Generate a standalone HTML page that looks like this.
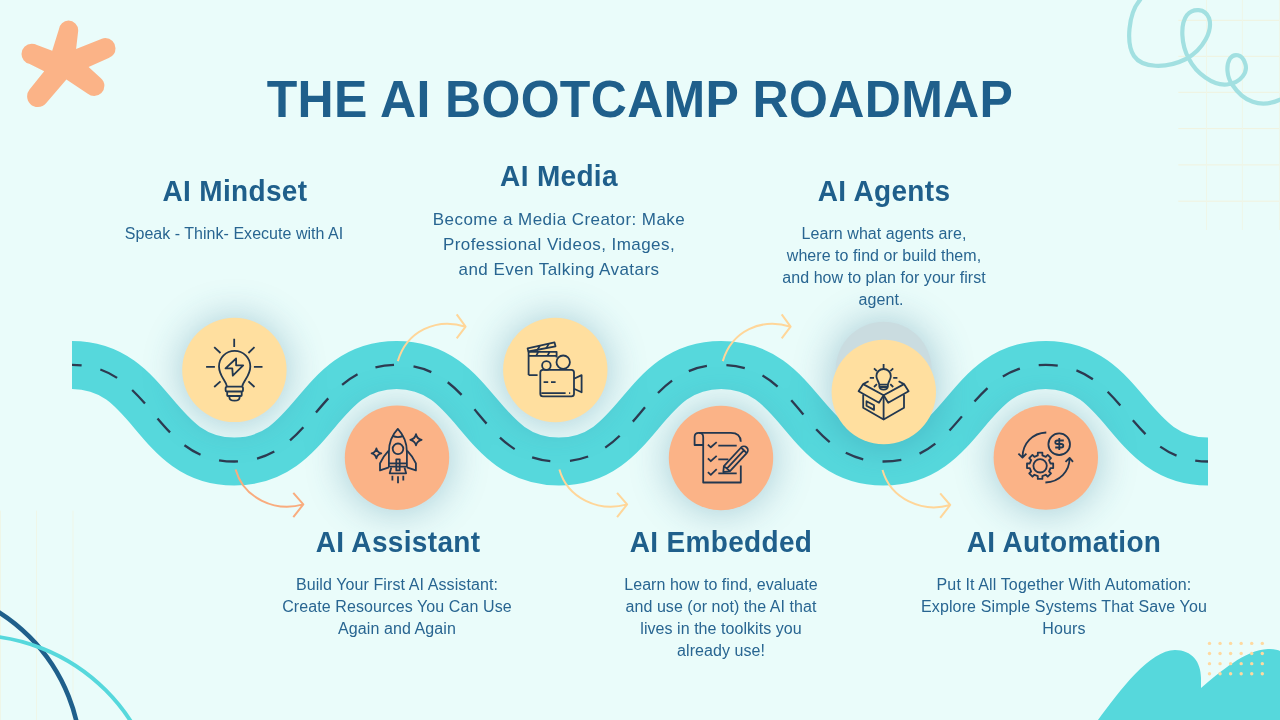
<!DOCTYPE html>
<html><head><meta charset="utf-8"><style>
html,body{margin:0;padding:0;}
body{width:1280px;height:720px;overflow:hidden;background:#EAFCFA;position:relative;font-family:"Liberation Sans",sans-serif;}
svg{position:absolute;left:0;top:0;}
.t{position:absolute;text-align:center;white-space:nowrap;will-change:transform;}
</style></head><body>
<svg width="1280" height="720" viewBox="0 0 1280 720">
<defs>
<filter id="sh" x="-60%" y="-60%" width="220%" height="220%"><feGaussianBlur stdDeviation="19"/></filter>
</defs>
<g stroke="#F2F3E0" stroke-width="1" fill="none"><path d="M1178.3,20.3H1280" stroke="#F1F2DE"/><path d="M1178.3,56.3H1280" stroke="#F1F2DE"/><path d="M1178.3,92.3H1280" stroke="#F1F2DE"/><path d="M1178.3,128.6H1280" stroke="#F1F2DE"/><path d="M1178.3,164.9H1280" stroke="#F1F2DE"/><path d="M1178.3,201.2H1280" stroke="#F1F2DE"/><path d="M1206.5,0V230" stroke="#EFF6E8"/><path d="M1242.4,0V230" stroke="#EFF6E8"/><path d="M1279.5,0V230" stroke="#EFF6E8"/><path d="M0.5,510.7V720" stroke="#EFF6E8"/><path d="M36.5,510.7V720" stroke="#EFF6E8"/><path d="M73,510.7V720" stroke="#EFF6E8"/></g>
<path d="M1140,0 C1128,14 1126,44 1134,56 C1142,68 1166,69 1186,59 C1204,49 1213,30 1209,18 C1205,8 1193,8 1187,15 C1180,24 1181,45 1189,59 C1196,73 1213,86 1227,84.5 C1241,83 1248.5,72 1245,63 C1242,54 1234,53 1230,58.5 C1226,65 1226.5,77 1232.5,85 C1243,101 1260,109 1280,99.6" fill="none" stroke="#A2E0E1" stroke-width="4.2" stroke-linecap="round"/>
<clipPath id="astc"><path d="M76.1,49 L88.6,67.1 L66.4,79.6 L44.2,71.25 L52.2,50.8Z"/><path d="M52.2,50.8 L58.84,29.40 L78.16,31.20 L76.1,49 L65.5,62.5Z"/><circle cx="68.5" cy="30.3" r="9.7"/><path d="M76.1,49 L101.87,38.69 L108.73,57.91 L88.6,67.1 L65.5,62.5Z"/><circle cx="105.3" cy="48.3" r="10.2"/><path d="M88.6,67.1 L100.63,77.88 L87.77,93.72 L66.4,79.6 L65.5,62.5Z"/><circle cx="94.2" cy="85.8" r="10.2"/><path d="M66.4,79.6 L46.26,103.09 L29.54,89.41 L44.2,71.25 L65.5,62.5Z"/><circle cx="37.9" cy="96.25" r="10.8"/><path d="M44.2,71.25 L29.18,63.79 L34.22,44.01 L52.2,50.8 L65.5,62.5Z"/><circle cx="31.7" cy="53.9" r="10.2"/></clipPath><rect x="0" y="0" width="140" height="130" fill="#FBB387" clip-path="url(#astc)"/>
<circle cx="-95.29" cy="761.25" r="176.28" fill="none" stroke="#1F5F8B" stroke-width="4.6"/><circle cx="-27.22" cy="823.1" r="187.94" fill="none" stroke="#56D8DC" stroke-width="3.9"/>
<path d="M1098,720 C1120,690 1150,650 1175,650 C1192,650 1201,662 1201,678 V688 C1220,672 1245,650 1268,649 C1274,649 1278,650 1280,651 V720Z" fill="#56D8DC"/>
<g fill="#FFD9A0"><circle cx="1209.50" cy="643.40" r="1.7"/><circle cx="1209.50" cy="653.53" r="1.7"/><circle cx="1209.50" cy="663.66" r="1.7"/><circle cx="1209.50" cy="673.79" r="1.7"/><circle cx="1220.06" cy="643.40" r="1.7"/><circle cx="1220.06" cy="653.53" r="1.7"/><circle cx="1220.06" cy="663.66" r="1.7"/><circle cx="1220.06" cy="673.79" r="1.7"/><circle cx="1230.62" cy="643.40" r="1.7"/><circle cx="1230.62" cy="653.53" r="1.7"/><circle cx="1230.62" cy="663.66" r="1.7"/><circle cx="1230.62" cy="673.79" r="1.7"/><circle cx="1241.18" cy="643.40" r="1.7"/><circle cx="1241.18" cy="653.53" r="1.7"/><circle cx="1241.18" cy="663.66" r="1.7"/><circle cx="1241.18" cy="673.79" r="1.7"/><circle cx="1251.74" cy="643.40" r="1.7"/><circle cx="1251.74" cy="653.53" r="1.7"/><circle cx="1251.74" cy="663.66" r="1.7"/><circle cx="1251.74" cy="673.79" r="1.7"/><circle cx="1262.30" cy="643.40" r="1.7"/><circle cx="1262.30" cy="653.53" r="1.7"/><circle cx="1262.30" cy="663.66" r="1.7"/><circle cx="1262.30" cy="673.79" r="1.7"/></g>

<path d="M72.00,364.90 C153.14,364.90 153.14,461.50 234.29,461.50 C315.43,461.50 315.43,364.90 396.57,364.90 C477.71,364.90 477.71,461.50 558.86,461.50 C640.00,461.50 640.00,364.90 721.14,364.90 C802.29,364.90 802.29,461.50 883.43,461.50 C964.57,461.50 964.57,364.90 1045.71,364.90 C1126.86,364.90 1126.86,461.50 1208.00,461.50" fill="none" stroke="#56D8DC" stroke-width="48"/>
<path d="M72.00,364.90 C153.14,364.90 153.14,461.50 234.29,461.50 C315.43,461.50 315.43,364.90 396.57,364.90 C477.71,364.90 477.71,461.50 558.86,461.50 C640.00,461.50 640.00,364.90 721.14,364.90 C802.29,364.90 802.29,461.50 883.43,461.50 C964.57,461.50 964.57,364.90 1045.71,364.90 C1126.86,364.90 1126.86,461.50 1208.00,461.50" fill="none" stroke="#2D3A50" stroke-width="2.3" stroke-dasharray="18.75 19.35" stroke-dashoffset="9.3"/>
<g fill="#2A6E90" opacity="0.33" filter="url(#sh)">
<circle cx="234.4" cy="371" r="54"/><circle cx="397" cy="459" r="54"/><circle cx="555.3" cy="371" r="54"/>
<circle cx="721" cy="459" r="54"/><circle cx="883.7" cy="371" r="52"/><circle cx="883.8" cy="393" r="54"/><circle cx="1045.8" cy="459" r="54"/>
</g>
<path d="M397.8,361.1 C406.82,331.16 436.22,317.44000000000005 465.6,326.70000000000005 M456.7,314.40000000000003 L465.6,326.70000000000005 L456.7,338.3" fill="none" stroke="#FFD699" stroke-width="2" stroke-linejoin="round"/><path d="M722.8,361.1 C731.8199999999999,331.16 761.2199999999999,317.44000000000005 790.5999999999999,326.70000000000005 M781.6999999999999,314.40000000000003 L790.5999999999999,326.70000000000005 L781.6999999999999,338.3" fill="none" stroke="#FFD699" stroke-width="2" stroke-linejoin="round"/><path d="M235.6,469.4 C243.67,498.31 275.39,512.5699999999999 303.3,504.4 M293.3,492.79999999999995 L303.3,504.4 L293.3,517.1999999999999" fill="none" stroke="#F9AC7E" stroke-width="2" stroke-linejoin="round"/><path d="M559.4,469.4 C567.47,498.31 599.1899999999999,512.5699999999999 627.1,504.4 M617.1,492.79999999999995 L627.1,504.4 L617.1,517.1999999999999" fill="none" stroke="#FFD699" stroke-width="2" stroke-linejoin="round"/><path d="M882.5,470.0 C890.57,498.91 922.29,513.17 950.2,505.0 M940.2,493.4 L950.2,505.0 L940.2,517.8" fill="none" stroke="#FFD699" stroke-width="2" stroke-linejoin="round"/>
<circle cx="883.7" cy="369.8" r="48" fill="#CADCE0"/>
<circle cx="234.4" cy="369.9" r="52.2" fill="#FFDF9F"/><circle cx="397" cy="457.7" r="52.2" fill="#FBB387"/><circle cx="555.3" cy="370" r="52.2" fill="#FFDF9F"/><circle cx="721" cy="458" r="52.2" fill="#FBB387"/><circle cx="883.8" cy="392" r="52.2" fill="#FFDF9F"/><circle cx="1045.8" cy="457.5" r="52.2" fill="#FBB387"/>
<g fill="none" stroke="#22374F" stroke-width="1.8" stroke-linecap="butt" stroke-linejoin="round">
<path d="M234.2,338.8V346.9 M214.2,347.1L220.5,353 M254.5,347.1L248.4,353 M206.1,366.9H214.9 M253.9,366.9H262.5 M214.2,387L220.5,381.3 M254.5,387L248.4,381.3"/>
<path d="M226.9,386.3 C226.2,381 219,376 219,366.5 C219,357.5 226,350.9 234.6,350.9 C243.2,350.9 250.3,357.5 250.3,366.5 C250.3,376 243,381 242.3,386.3"/>
<rect x="225.6" y="386.6" width="17.4" height="4.9" rx="1.6"/>
<path d="M227.2,391.5V395.2Q227.2,396 228,396H240.9Q241.7,396 241.7,395.2V391.5"/>
<path d="M229.4,396V397.5Q229.4,400.7 234.6,400.7Q239.6,400.7 239.6,397.5V396"/>
<path d="M236.1,358.5L225.5,368.3H232.3L232.8,375.7L243.2,365.3H236.1Z"/>
</g><g fill="none" stroke="#22374F" stroke-width="1.8" stroke-linejoin="round">
<path d="M388.9,466.7V452 C388.9,442 393,434 397.8,428.9 C402.6,434 406.9,442 406.9,452V466.7Z"/>
<path d="M392.6,435.9Q398,438.4 403.3,435.9"/>
<circle cx="398" cy="448.8" r="5.3"/>
<path d="M388.7,450.6Q383.2,456.2 380,463.3V470.4L388.9,467.4 M407.1,450.6Q412.6,456.2 415.9,463.3V470.4L406.9,467.4"/>
<path d="M388.9,463.4H406.9"/>
<rect x="396.3" y="459.3" width="3.4" height="11.1"/>
<path d="M391.3,467.5L389.7,473.3H406.1L404.5,467.5"/>
<path d="M392.4,475.8V480.4 M398,476.2V483.3 M403.3,475.8V480.4"/>
<path d="M376.4,448.3Q377.2,452.5 381.3,453.3Q377.2,454.1 376.4,458.3Q375.6,454.1 371.6,453.3Q375.6,452.5 376.4,448.3Z"/>
<path d="M416,434.2Q417,438.8 421.6,439.8Q417,440.8 416,445.4Q415,440.8 410.3,439.8Q415,438.8 416,434.2Z"/>
</g><g fill="none" stroke="#22374F" stroke-width="1.8" stroke-linejoin="round">
<path d="M527.6,348.4L554.5,342.4L555.5,346.3L528.4,351.5Z"/>
<path d="M537,350.6L539.8,345.8 M546,348.6L548.8,343.9"/>
<path d="M528.6,375.1V351.8H556.6V357.5 M528.6,355.9H556.6 M536.1,355.9L538.3,351.9 M547.4,355.9L549.6,351.9 M528.6,375.1H537.6"/>
<rect x="540.3" y="369.8" width="33.7" height="26.5" rx="2.6"/>
<path d="M541.3,393.1H565.6 M569.1,393.1H570.2 M543.6,382.2H548.2 M551,382.2H555.6"/>
<path d="M574,378.8L581.6,375.1V392.3L574,388.8"/>
<circle cx="546.4" cy="365.5" r="4.3"/>
<circle cx="563.2" cy="362.2" r="6.7"/>
</g><g fill="none" stroke="#22374F" stroke-width="1.8" stroke-linejoin="round">
<path d="M703.2,445H694.6V437 Q694.6,432.8 698.9,432.8 Q703.2,432.8 703.2,437V482.5H740.8V465.4"/>
<path d="M698.9,432.8H730.8 Q740.6,432.8 740.8,441.8"/>
<path d="M707.9,444.6L710.8,447.3L716.7,442.1 M707.9,458.3L710.8,461.2L716.7,455.8 M707.9,472.1L710.8,474.8L716.7,469.2"/>
<path d="M718.3,445.7H736.7 M718.3,459.3H728.4 M718.3,473.3H736.7"/>
<path d="M723.9,466.1L741.1,447.5A3.95,3.95 0 0 1 746.7,453.1L730,471.1L723.3,472.2Z M726.9,468.6L743.6,450.6 M741.1,447.5L746.7,453.1 M723.9,466.1L730,471.1"/>
</g><g fill="none" stroke="#22374F" stroke-width="1.8" stroke-linejoin="round">
<path d="M883.6,364.1V368.7 M874,368.3L876.9,371.2 M893.2,368.3L890.3,371.2 M869.8,377.8H874 M893.2,377.8H897.4 M874,387L876.9,384.1 M893.2,387L890.3,384.1"/>
<path d="M879.3,384.6C878.6,381 876.4,379.6 876.4,376C876.4,372 879.6,369 883.6,369C887.6,369 890.8,372 890.8,376C890.8,379.6 888.6,381 887.9,384.6Z M879.3,384.6V386.4Q879.7,389.7 883.6,389.7Q887.5,389.7 887.9,386.4V384.6 M879.5,387H887.7"/>
<path d="M863.2,394.5V407.8L883.6,419.5L904,407.8V394.5 M883.6,395.3V419.5"/>
<path d="M883.6,395.3L863.2,384.1L858.6,391.2L879,402.8Z M883.6,395.3L904,384.1L908.6,391.2L888.2,402.8Z"/>
<path d="M863.2,384.1L868.6,381.2 M904,384.1L898.6,381.2"/>
<path d="M866.5,401.2L874,405.3V409.9L866.5,405.8Z"/>
</g><g fill="none" stroke="#22374F" stroke-width="1.8" stroke-linejoin="round">
<circle cx="1059.2" cy="444.2" r="10.8"/>
<path d="M1063.8,440.5H1057.4Q1055.3,440.5 1055.3,442.2Q1055.3,444 1057.4,444H1061.2Q1063.3,444 1063.3,445.75Q1063.3,447.5 1061.2,447.5H1055.2 M1059.3,437.9V450.1"/>
<path d="M1037.80,455.45 L1037.80,452.70 L1042.40,452.70 L1042.40,455.45 L1045.79,456.86 L1047.74,454.91 L1050.99,458.16 L1049.04,460.11 L1050.45,463.50 L1053.20,463.50 L1053.20,468.10 L1050.45,468.10 L1049.04,471.49 L1050.99,473.44 L1047.74,476.69 L1045.79,474.74 L1042.40,476.15 L1042.40,478.90 L1037.80,478.90 L1037.80,476.15 L1034.41,474.74 L1032.46,476.69 L1029.21,473.44 L1031.16,471.49 L1029.75,468.10 L1027.00,468.10 L1027.00,463.50 L1029.75,463.50 L1031.16,460.11 L1029.21,458.16 L1032.46,454.91 L1034.41,456.86Z"/>
<circle cx="1040.1" cy="465.8" r="6.7"/>
<path d="M1046.3,432.5C1032.5,433 1022.5,443.5 1022.5,457.3 M1018.4,453.6L1022.5,457.6L1026.4,453.6"/>
<path d="M1045.4,482.5C1059.5,482 1069.6,471.5 1069.6,458.1 M1065.5,461.8L1069.6,457.9L1073,461.8"/>
</g>
</svg>
<div class="t" style="left:140.10px;top:69.88px;width:1000px;height:60.0px;font-size:50px;line-height:60.0px;font-weight:700;letter-spacing:0.33px;color:#1F5F8B;transform-origin:50% 47.33px;transform:scaleY(1.04)">THE AI BOOTCAMP ROADMAP</div><div class="t" style="left:-265.30px;top:174.80px;width:1000px;height:33.6px;font-size:28px;line-height:33.6px;font-weight:700;letter-spacing:0.33px;color:#1F5F8B;transform-origin:50% 26.50px;transform:scaleY(1.04)">AI Mindset</div><div class="t" style="left:59.20px;top:159.90px;width:1000px;height:33.6px;font-size:28px;line-height:33.6px;font-weight:700;letter-spacing:0.33px;color:#1F5F8B;transform-origin:50% 26.50px;transform:scaleY(1.04)">AI Media</div><div class="t" style="left:383.50px;top:175.00px;width:1000px;height:33.6px;font-size:28px;line-height:33.6px;font-weight:700;letter-spacing:0.33px;color:#1F5F8B;transform-origin:50% 26.50px;transform:scaleY(1.04)">AI Agents</div><div class="t" style="left:-102.50px;top:525.90px;width:1000px;height:33.6px;font-size:28px;line-height:33.6px;font-weight:700;letter-spacing:0.33px;color:#1F5F8B;transform-origin:50% 26.50px;transform:scaleY(1.04)">AI Assistant</div><div class="t" style="left:220.90px;top:525.90px;width:1000px;height:33.6px;font-size:28px;line-height:33.6px;font-weight:700;letter-spacing:0.33px;color:#1F5F8B;transform-origin:50% 26.50px;transform:scaleY(1.04)">AI Embedded</div><div class="t" style="left:563.50px;top:526.00px;width:1000px;height:33.6px;font-size:28px;line-height:33.6px;font-weight:700;letter-spacing:0.33px;color:#1F5F8B;transform-origin:50% 26.50px;transform:scaleY(1.04)">AI Automation</div><div class="t" style="left:-266.00px;top:224.26px;width:1000px;height:19.2px;font-size:16px;line-height:19.2px;font-weight:400;letter-spacing:0.03px;color:#286591;transform-origin:50% 15.14px;transform:scaleY(1.0)">Speak - Think- Execute with AI</div><div class="t" style="left:58.65px;top:210.21px;width:1000px;height:20.4px;font-size:17px;line-height:20.4px;font-weight:400;letter-spacing:0.44px;color:#286591;transform-origin:50% 16.09px;transform:scaleY(1.0)">Become a Media Creator: Make</div><div class="t" style="left:58.65px;top:235.21px;width:1000px;height:20.4px;font-size:17px;line-height:20.4px;font-weight:400;letter-spacing:0.44px;color:#286591;transform-origin:50% 16.09px;transform:scaleY(1.0)">Professional Videos, Images,</div><div class="t" style="left:58.65px;top:260.21px;width:1000px;height:20.4px;font-size:17px;line-height:20.4px;font-weight:400;letter-spacing:0.44px;color:#286591;transform-origin:50% 16.09px;transform:scaleY(1.0)">and Even Talking Avatars</div><div class="t" style="left:383.50px;top:224.16px;width:1000px;height:19.2px;font-size:16px;line-height:19.2px;font-weight:400;letter-spacing:0.05px;color:#286591;transform-origin:50% 15.14px;transform:scaleY(1.0)">Learn what agents are,</div><div class="t" style="left:383.50px;top:245.96px;width:1000px;height:19.2px;font-size:16px;line-height:19.2px;font-weight:400;letter-spacing:0.05px;color:#286591;transform-origin:50% 15.14px;transform:scaleY(1.0)">where to find or build them,</div><div class="t" style="left:383.50px;top:267.76px;width:1000px;height:19.2px;font-size:16px;line-height:19.2px;font-weight:400;letter-spacing:0.05px;color:#286591;transform-origin:50% 15.14px;transform:scaleY(1.0)">and how to plan for your first</div><div class="t" style="left:381.00px;top:289.56px;width:1000px;height:19.2px;font-size:16px;line-height:19.2px;font-weight:400;letter-spacing:0.05px;color:#286591;transform-origin:50% 15.14px;transform:scaleY(1.0)">agent.</div><div class="t" style="left:-103.00px;top:574.86px;width:1000px;height:19.2px;font-size:16px;line-height:19.2px;font-weight:400;letter-spacing:0.1px;color:#286591;transform-origin:50% 15.14px;transform:scaleY(1.0)">Build Your First AI Assistant:</div><div class="t" style="left:-103.00px;top:596.71px;width:1000px;height:19.2px;font-size:16px;line-height:19.2px;font-weight:400;letter-spacing:0.1px;color:#286591;transform-origin:50% 15.14px;transform:scaleY(1.0)">Create Resources You Can Use</div><div class="t" style="left:-103.00px;top:618.56px;width:1000px;height:19.2px;font-size:16px;line-height:19.2px;font-weight:400;letter-spacing:0.1px;color:#286591;transform-origin:50% 15.14px;transform:scaleY(1.0)">Again and Again</div><div class="t" style="left:221.30px;top:575.06px;width:1000px;height:19.2px;font-size:16px;line-height:19.2px;font-weight:400;letter-spacing:0.05px;color:#286591;transform-origin:50% 15.14px;transform:scaleY(1.0)">Learn how to find, evaluate</div><div class="t" style="left:221.30px;top:596.93px;width:1000px;height:19.2px;font-size:16px;line-height:19.2px;font-weight:400;letter-spacing:0.05px;color:#286591;transform-origin:50% 15.14px;transform:scaleY(1.0)">and use (or not) the AI that</div><div class="t" style="left:221.30px;top:618.80px;width:1000px;height:19.2px;font-size:16px;line-height:19.2px;font-weight:400;letter-spacing:0.05px;color:#286591;transform-origin:50% 15.14px;transform:scaleY(1.0)">lives in the toolkits you</div><div class="t" style="left:221.30px;top:640.67px;width:1000px;height:19.2px;font-size:16px;line-height:19.2px;font-weight:400;letter-spacing:0.05px;color:#286591;transform-origin:50% 15.14px;transform:scaleY(1.0)">already use!</div><div class="t" style="left:564.00px;top:575.26px;width:1000px;height:19.2px;font-size:16px;line-height:19.2px;font-weight:400;letter-spacing:0.12px;color:#286591;transform-origin:50% 15.14px;transform:scaleY(1.0)">Put It All Together With Automation:</div><div class="t" style="left:564.00px;top:597.16px;width:1000px;height:19.2px;font-size:16px;line-height:19.2px;font-weight:400;letter-spacing:0.12px;color:#286591;transform-origin:50% 15.14px;transform:scaleY(1.0)">Explore Simple Systems That Save You</div><div class="t" style="left:564.00px;top:619.06px;width:1000px;height:19.2px;font-size:16px;line-height:19.2px;font-weight:400;letter-spacing:0.12px;color:#286591;transform-origin:50% 15.14px;transform:scaleY(1.0)">Hours</div>
</body></html>
